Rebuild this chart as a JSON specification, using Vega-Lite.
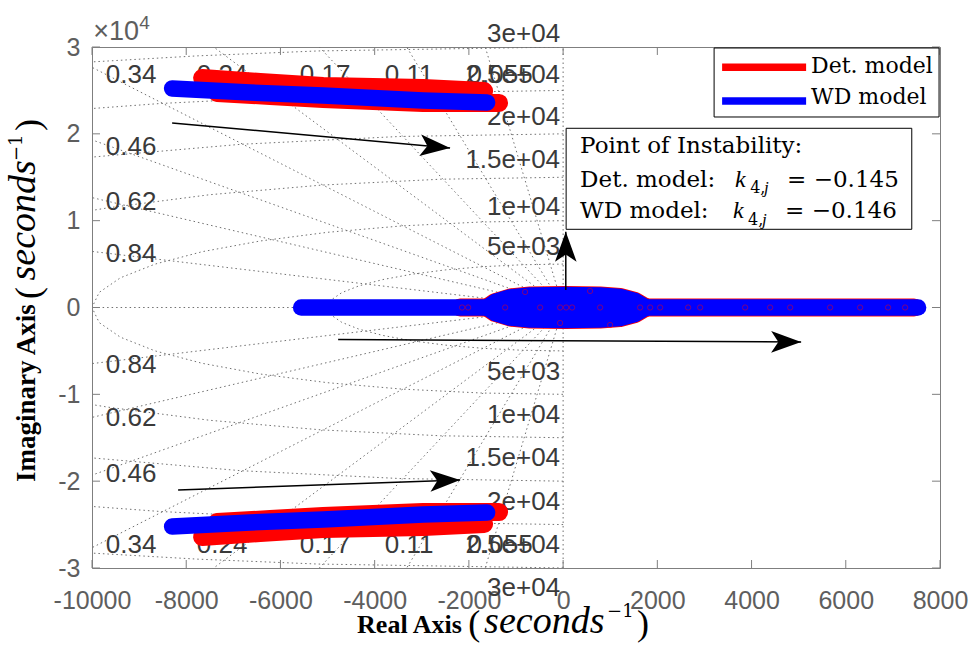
{
  "$schema": "https://vega.github.io/schema/vega-lite/v6.json",
  "width": 848,
  "height": 521,
  "autosize": {"type": "none"},
  "padding": {"left": 92, "top": 47, "right": 35, "bottom": 78},
  "background": "white",
  "config": {
    "view": {"stroke": "#7f7f7f", "strokeWidth": 1},
    "axis": {
      "grid": false, "ticks": false, "tickSize": 0, "domain": false,
      "labelFont": "Liberation Sans", "labelFontSize": 25, "labelColor": "#5e5e5e",
      "labelOverlap": false, "labelFlush": false, "labelBound": false
    }
  },
  "datasets": {
    "sgrid": [
      {"g": "z0", "o": 0, "re": 0, "im": -30000}, {"g": "z0", "o": 1, "re": 0, "im": 30000},
      {"g": "z1", "o": 0, "re": 0, "im": 0}, {"g": "z1", "o": 1, "re": -10000, "im": 0},
      {"g": "z84u", "o": 0, "re": 0, "im": 0}, {"g": "z84u", "o": 1, "re": -10000, "im": 6459},
      {"g": "z84l", "o": 0, "re": 0, "im": 0}, {"g": "z84l", "o": 1, "re": -10000, "im": -6459},
      {"g": "z62u", "o": 0, "re": 0, "im": 0}, {"g": "z62u", "o": 1, "re": -10000, "im": 12655},
      {"g": "z62l", "o": 0, "re": 0, "im": 0}, {"g": "z62l", "o": 1, "re": -10000, "im": -12655},
      {"g": "z46u", "o": 0, "re": 0, "im": 0}, {"g": "z46u", "o": 1, "re": -10000, "im": 19303},
      {"g": "z46l", "o": 0, "re": 0, "im": 0}, {"g": "z46l", "o": 1, "re": -10000, "im": -19303},
      {"g": "z34u", "o": 0, "re": 0, "im": 0}, {"g": "z34u", "o": 1, "re": -10000, "im": 27660},
      {"g": "z34l", "o": 0, "re": 0, "im": 0}, {"g": "z34l", "o": 1, "re": -10000, "im": -27660},
      {"g": "z24u", "o": 0, "re": 0, "im": 0}, {"g": "z24u", "o": 1, "re": -7417, "im": 30000},
      {"g": "z24l", "o": 0, "re": 0, "im": 0}, {"g": "z24l", "o": 1, "re": -7417, "im": -30000},
      {"g": "z17u", "o": 0, "re": 0, "im": 0}, {"g": "z17u", "o": 1, "re": -5175, "im": 30000},
      {"g": "z17l", "o": 0, "re": 0, "im": 0}, {"g": "z17l", "o": 1, "re": -5175, "im": -30000},
      {"g": "z11u", "o": 0, "re": 0, "im": 0}, {"g": "z11u", "o": 1, "re": -3320, "im": 30000},
      {"g": "z11l", "o": 0, "re": 0, "im": 0}, {"g": "z11l", "o": 1, "re": -3320, "im": -30000},
      {"g": "z055u", "o": 0, "re": 0, "im": 0}, {"g": "z055u", "o": 1, "re": -1653, "im": 30000},
      {"g": "z055l", "o": 0, "re": 0, "im": 0}, {"g": "z055l", "o": 1, "re": -1653, "im": -30000},
      {"g": "w5", "o": 0, "re": 0, "im": 5000}, {"g": "w5", "o": 1, "re": -868, "im": 4924},
      {"g": "w5", "o": 2, "re": -1710, "im": 4698}, {"g": "w5", "o": 3, "re": -2500, "im": 4330},
      {"g": "w5", "o": 4, "re": -3214, "im": 3830}, {"g": "w5", "o": 5, "re": -3830, "im": 3214},
      {"g": "w5", "o": 6, "re": -4330, "im": 2500}, {"g": "w5", "o": 7, "re": -4698, "im": 1710},
      {"g": "w5", "o": 8, "re": -4924, "im": 868}, {"g": "w5", "o": 9, "re": -5000, "im": 0},
      {"g": "w5", "o": 10, "re": -4924, "im": -868}, {"g": "w5", "o": 11, "re": -4698, "im": -1710},
      {"g": "w5", "o": 12, "re": -4330, "im": -2500}, {"g": "w5", "o": 13, "re": -3830, "im": -3214},
      {"g": "w5", "o": 14, "re": -3214, "im": -3830}, {"g": "w5", "o": 15, "re": -2500, "im": -4330},
      {"g": "w5", "o": 16, "re": -1710, "im": -4698}, {"g": "w5", "o": 17, "re": -868, "im": -4924},
      {"g": "w5", "o": 18, "re": 0, "im": -5000},
      {"g": "w10", "o": 0, "re": 0, "im": 10000}, {"g": "w10", "o": 1, "re": -1736, "im": 9848},
      {"g": "w10", "o": 2, "re": -3420, "im": 9397}, {"g": "w10", "o": 3, "re": -5000, "im": 8660},
      {"g": "w10", "o": 4, "re": -6428, "im": 7660}, {"g": "w10", "o": 5, "re": -7660, "im": 6428},
      {"g": "w10", "o": 6, "re": -8660, "im": 5000}, {"g": "w10", "o": 7, "re": -9397, "im": 3420},
      {"g": "w10", "o": 8, "re": -9848, "im": 1736}, {"g": "w10", "o": 9, "re": -10000, "im": 0},
      {"g": "w10", "o": 10, "re": -9848, "im": -1736}, {"g": "w10", "o": 11, "re": -9397, "im": -3420},
      {"g": "w10", "o": 12, "re": -8660, "im": -5000}, {"g": "w10", "o": 13, "re": -7660, "im": -6428},
      {"g": "w10", "o": 14, "re": -6428, "im": -7660}, {"g": "w10", "o": 15, "re": -5000, "im": -8660},
      {"g": "w10", "o": 16, "re": -3420, "im": -9397}, {"g": "w10", "o": 17, "re": -1736, "im": -9848},
      {"g": "w10", "o": 18, "re": 0, "im": -10000},
      {"g": "w15u", "o": 0, "re": 0, "im": 15000}, {"g": "w15u", "o": 1, "re": -2605, "im": 14772},
      {"g": "w15u", "o": 2, "re": -5130, "im": 14095}, {"g": "w15u", "o": 3, "re": -7500, "im": 12990},
      {"g": "w15u", "o": 4, "re": -9642, "im": 11491}, {"g": "w15u", "o": 5, "re": -10000, "im": 11180},
      {"g": "w15l", "o": 0, "re": 0, "im": -15000}, {"g": "w15l", "o": 1, "re": -2605, "im": -14772},
      {"g": "w15l", "o": 2, "re": -5130, "im": -14095}, {"g": "w15l", "o": 3, "re": -7500, "im": -12990},
      {"g": "w15l", "o": 4, "re": -9642, "im": -11491}, {"g": "w15l", "o": 5, "re": -10000, "im": -11180},
      {"g": "w20u", "o": 0, "re": 0, "im": 20000}, {"g": "w20u", "o": 1, "re": -3473, "im": 19696},
      {"g": "w20u", "o": 2, "re": -6840, "im": 18794}, {"g": "w20u", "o": 3, "re": -10000, "im": 17321},
      {"g": "w20l", "o": 0, "re": 0, "im": -20000}, {"g": "w20l", "o": 1, "re": -3473, "im": -19696},
      {"g": "w20l", "o": 2, "re": -6840, "im": -18794}, {"g": "w20l", "o": 3, "re": -10000, "im": -17321},
      {"g": "w25u", "o": 0, "re": 0, "im": 25000}, {"g": "w25u", "o": 1, "re": -4341, "im": 24620},
      {"g": "w25u", "o": 2, "re": -8551, "im": 23492}, {"g": "w25u", "o": 3, "re": -10000, "im": 22913},
      {"g": "w25l", "o": 0, "re": 0, "im": -25000}, {"g": "w25l", "o": 1, "re": -4341, "im": -24620},
      {"g": "w25l", "o": 2, "re": -8551, "im": -23492}, {"g": "w25l", "o": 3, "re": -10000, "im": -22913},
      {"g": "w30u", "o": 0, "re": 0, "im": 30000}, {"g": "w30u", "o": 1, "re": -5209, "im": 29544},
      {"g": "w30u", "o": 2, "re": -7765, "im": 28978}, {"g": "w30u", "o": 3, "re": -10000, "im": 28284},
      {"g": "w30l", "o": 0, "re": 0, "im": -30000}, {"g": "w30l", "o": 1, "re": -5209, "im": -29544},
      {"g": "w30l", "o": 2, "re": -7765, "im": -28978}, {"g": "w30l", "o": 3, "re": -10000, "im": -28284}
    ],
    "zlabels": [
      {"t": "0.34", "re": -9170, "im": 26777}, {"t": "0.46", "re": -9170, "im": 18484},
      {"t": "0.62", "re": -9170, "im": 12150}, {"t": "0.84", "re": -9170, "im": 6161},
      {"t": "0.84", "re": -9170, "im": -6622}, {"t": "0.62", "re": -9170, "im": -12726},
      {"t": "0.46", "re": -9170, "im": -19175}, {"t": "0.34", "re": -9170, "im": -27352},
      {"t": "0.24", "re": -7238, "im": 26777}, {"t": "0.17", "re": -5052, "im": 26777},
      {"t": "0.11", "re": -3269, "im": 26777}, {"t": "0.055", "re": -1337, "im": 26777},
      {"t": "0.24", "re": -7238, "im": -27352}, {"t": "0.17", "re": -5052, "im": -27352},
      {"t": "0.11", "re": -3269, "im": -27352}, {"t": "0.055", "re": -1337, "im": -27352}
    ],
    "wlabels": [
      {"t": "3e+04", "re": -64, "im": 31499}, {"t": "2.5e+04", "re": -64, "im": 26777},
      {"t": "2e+04", "re": -64, "im": 21940}, {"t": "1.5e+04", "re": -64, "im": 16987},
      {"t": "1e+04", "re": -64, "im": 11575}, {"t": "5e+03", "re": -64, "im": 6968},
      {"t": "5e+03", "re": -64, "im": -7428}, {"t": "1e+04", "re": -64, "im": -12381},
      {"t": "1.5e+04", "re": -64, "im": -17333}, {"t": "2e+04", "re": -64, "im": -22400},
      {"t": "2.5e+04", "re": -64, "im": -27352}, {"t": "3e+04", "re": -64, "im": -32304}
    ],
    "xticks": [
      {"v": -10000}, {"v": -8000}, {"v": -6000}, {"v": -4000}, {"v": -2000},
      {"v": 0}, {"v": 2000}, {"v": 4000}, {"v": 6000}, {"v": 8000}
    ],
    "yticks": [
      {"v": -30000}, {"v": -20000}, {"v": -10000}, {"v": 0}, {"v": 10000}, {"v": 20000}, {"v": 30000}
    ],
    "locus": [
      {"m": "Det. model", "b": "d1", "o": 0, "re": -7662, "im": 26432},
      {"m": "Det. model", "b": "d1", "o": 1, "re": -6431, "im": 25971},
      {"m": "Det. model", "b": "d1", "o": 2, "re": -5094, "im": 25511},
      {"m": "Det. model", "b": "d1", "o": 3, "re": -2972, "im": 25280},
      {"m": "Det. model", "b": "d1", "o": 4, "re": -1677, "im": 24935},
      {"m": "Det. model", "b": "d2", "o": 0, "re": -7344, "im": 24704},
      {"m": "Det. model", "b": "d2", "o": 1, "re": -6219, "im": 24358},
      {"m": "Det. model", "b": "d2", "o": 2, "re": -5094, "im": 24013},
      {"m": "Det. model", "b": "d2", "o": 3, "re": -2972, "im": 23553},
      {"m": "Det. model", "b": "d2", "o": 4, "re": -1359, "im": 23553},
      {"m": "Det. model", "b": "d3", "o": 0, "re": -7662, "im": -26432},
      {"m": "Det. model", "b": "d3", "o": 1, "re": -6431, "im": -25971},
      {"m": "Det. model", "b": "d3", "o": 2, "re": -5094, "im": -25511},
      {"m": "Det. model", "b": "d3", "o": 3, "re": -2972, "im": -25280},
      {"m": "Det. model", "b": "d3", "o": 4, "re": -1677, "im": -24935},
      {"m": "Det. model", "b": "d4", "o": 0, "re": -7344, "im": -24704},
      {"m": "Det. model", "b": "d4", "o": 1, "re": -6219, "im": -24358},
      {"m": "Det. model", "b": "d4", "o": 2, "re": -5094, "im": -24013},
      {"m": "Det. model", "b": "d4", "o": 3, "re": -2972, "im": -23553},
      {"m": "Det. model", "b": "d4", "o": 4, "re": -1359, "im": -23553},
      {"m": "Det. model", "b": "d5", "o": 0, "re": -2186, "im": 0},
      {"m": "Det. model", "b": "d5", "o": 1, "re": 7450, "im": 0},
      {"m": "Det. model", "b": "d6", "o": 0, "re": -1613, "im": 0},
      {"m": "Det. model", "b": "d6", "o": 1, "re": -1443, "im": 633},
      {"m": "Det. model", "b": "d6", "o": 2, "re": -1125, "im": 1152},
      {"m": "Det. model", "b": "d6", "o": 3, "re": -700, "im": 1382},
      {"m": "Det. model", "b": "d6", "o": 4, "re": 42, "im": 1440},
      {"m": "Det. model", "b": "d6", "o": 5, "re": 785, "im": 1382},
      {"m": "Det. model", "b": "d6", "o": 6, "re": 1210, "im": 1209},
      {"m": "Det. model", "b": "d6", "o": 7, "re": 1528, "im": 749},
      {"m": "Det. model", "b": "d6", "o": 8, "re": 1762, "im": 0},
      {"m": "Det. model", "b": "d7", "o": 0, "re": -1613, "im": 0},
      {"m": "Det. model", "b": "d7", "o": 1, "re": -1443, "im": -633},
      {"m": "Det. model", "b": "d7", "o": 2, "re": -1125, "im": -1152},
      {"m": "Det. model", "b": "d7", "o": 3, "re": -700, "im": -1382},
      {"m": "Det. model", "b": "d7", "o": 4, "re": 42, "im": -1440},
      {"m": "Det. model", "b": "d7", "o": 5, "re": 785, "im": -1382},
      {"m": "Det. model", "b": "d7", "o": 6, "re": 1210, "im": -1209},
      {"m": "Det. model", "b": "d7", "o": 7, "re": 1528, "im": -749},
      {"m": "Det. model", "b": "d7", "o": 8, "re": 1762, "im": 0},
      {"m": "WD model", "b": "w1", "o": 0, "re": -8299, "im": 25222},
      {"m": "WD model", "b": "w1", "o": 1, "re": -6644, "im": 24762},
      {"m": "WD model", "b": "w1", "o": 2, "re": -5094, "im": 24416},
      {"m": "WD model", "b": "w1", "o": 3, "re": -2972, "im": 23840},
      {"m": "WD model", "b": "w1", "o": 4, "re": -1613, "im": 23610},
      {"m": "WD model", "b": "w2", "o": 0, "re": -8299, "im": -25222},
      {"m": "WD model", "b": "w2", "o": 1, "re": -6644, "im": -24762},
      {"m": "WD model", "b": "w2", "o": 2, "re": -5094, "im": -24416},
      {"m": "WD model", "b": "w2", "o": 3, "re": -2972, "im": -23840},
      {"m": "WD model", "b": "w2", "o": 4, "re": -1613, "im": -23610},
      {"m": "WD model", "b": "w3", "o": 0, "re": -5561, "im": 0},
      {"m": "WD model", "b": "w3", "o": 1, "re": 7535, "im": 0},
      {"m": "WD model", "b": "w4", "o": 0, "re": -1613, "im": 0},
      {"m": "WD model", "b": "w4", "o": 1, "re": -1443, "im": 633},
      {"m": "WD model", "b": "w4", "o": 2, "re": -1125, "im": 1152},
      {"m": "WD model", "b": "w4", "o": 3, "re": -700, "im": 1382},
      {"m": "WD model", "b": "w4", "o": 4, "re": 42, "im": 1440},
      {"m": "WD model", "b": "w4", "o": 5, "re": 785, "im": 1382},
      {"m": "WD model", "b": "w4", "o": 6, "re": 1210, "im": 1209},
      {"m": "WD model", "b": "w4", "o": 7, "re": 1528, "im": 749},
      {"m": "WD model", "b": "w4", "o": 8, "re": 1762, "im": 0},
      {"m": "WD model", "b": "w5", "o": 0, "re": -1613, "im": 0},
      {"m": "WD model", "b": "w5", "o": 1, "re": -1443, "im": -633},
      {"m": "WD model", "b": "w5", "o": 2, "re": -1125, "im": -1152},
      {"m": "WD model", "b": "w5", "o": 3, "re": -700, "im": -1382},
      {"m": "WD model", "b": "w5", "o": 4, "re": 42, "im": -1440},
      {"m": "WD model", "b": "w5", "o": 5, "re": 785, "im": -1382},
      {"m": "WD model", "b": "w5", "o": 6, "re": 1210, "im": -1209},
      {"m": "WD model", "b": "w5", "o": 7, "re": 1528, "im": -749},
      {"m": "WD model", "b": "w5", "o": 8, "re": 1762, "im": 0}
    ],
    "detroots": [
      {"re": -2144, "im": 0}, {"re": -2016, "im": 0}, {"re": -1231, "im": 0}, {"re": -488, "im": 0},
      {"re": -64, "im": 0}, {"re": 64, "im": 0}, {"re": 191, "im": 0}, {"re": 785, "im": 0},
      {"re": 1634, "im": 0}, {"re": 1847, "im": 0}, {"re": 2059, "im": 0}, {"re": 2653, "im": 0},
      {"re": 2908, "im": 0}, {"re": 3863, "im": 0}, {"re": 4394, "im": 0}, {"re": 4819, "im": 0},
      {"re": 5667, "im": 0}, {"re": 6304, "im": 0}, {"re": 6898, "im": 0}, {"re": 7259, "im": 0},
      {"re": -807, "im": 1785}, {"re": -64, "im": -1785}, {"re": 998, "im": -2015}, {"re": 573, "im": 1900}
    ],
    "arrows": [
      {"re": -8299, "im": 21253, "re2": -2399, "im2": 18374},
      {"re": -8172, "im": -21018, "re2": -2186, "im2": -19867},
      {"re": -4776, "im": -3685, "re2": 5052, "im2": -3974},
      {"re": 57, "im": 2015, "re2": 57, "im2": 8730}
    ]
  },
  "data": {"values": [{}]},
  "layer": [
    {
      "data": {"name": "sgrid"},
      "mark": {"type": "line", "color": "#707070", "strokeWidth": 1, "strokeDash": [1.5, 3], "clip": true},
      "encoding": {
        "x": {"field": "re", "type": "quantitative", "title": null,
              "scale": {"domain": [-10000, 8000], "nice": false, "zero": false},
              "axis": {"values": [-10000, -8000, -6000, -4000, -2000, 0, 2000, 4000, 6000, 8000],
                       "labelExpr": "'' + datum.value", "labelPadding": 20}},
        "y": {"field": "im", "type": "quantitative", "title": null,
              "scale": {"domain": [-30000, 30000], "nice": false, "zero": false},
              "axis": {"values": [-30000, -20000, -10000, 0, 10000, 20000, 30000],
                       "labelExpr": "'' + (datum.value / 10000)", "labelPadding": 12}},
        "detail": {"field": "g"},
        "order": {"field": "o"}
      }
    },
    {
      "data": {"name": "xticks"},
      "mark": {"type": "rule", "color": "#7f7f7f", "strokeWidth": 1},
      "encoding": {"x": {"field": "v", "type": "quantitative", "title": null}, "y": {"datum": -30000}, "y2": {"datum": -29079}}
    },
    {
      "data": {"name": "xticks"},
      "mark": {"type": "rule", "color": "#7f7f7f", "strokeWidth": 1},
      "encoding": {"x": {"field": "v", "type": "quantitative", "title": null}, "y": {"datum": 30000}, "y2": {"datum": 29079}}
    },
    {
      "data": {"name": "yticks"},
      "mark": {"type": "rule", "color": "#7f7f7f", "strokeWidth": 1},
      "encoding": {"y": {"field": "v", "type": "quantitative", "title": null}, "x": {"datum": -10000}, "x2": {"datum": -9830}}
    },
    {
      "data": {"name": "yticks"},
      "mark": {"type": "rule", "color": "#7f7f7f", "strokeWidth": 1},
      "encoding": {"y": {"field": "v", "type": "quantitative", "title": null}, "x": {"datum": 8000}, "x2": {"datum": 7830}}
    },
    {
      "data": {"name": "zlabels"},
      "mark": {"type": "text", "font": "Liberation Sans", "fontSize": 26, "color": "#3a3a3a", "align": "center", "baseline": "middle"},
      "encoding": {
        "x": {"field": "re", "type": "quantitative", "title": null},
        "y": {"field": "im", "type": "quantitative", "title": null},
        "text": {"field": "t"}
      }
    },
    {
      "data": {"name": "wlabels"},
      "mark": {"type": "text", "font": "Liberation Sans", "fontSize": 26, "color": "#3a3a3a", "align": "right", "baseline": "middle"},
      "encoding": {
        "x": {"field": "re", "type": "quantitative", "title": null},
        "y": {"field": "im", "type": "quantitative", "title": null},
        "text": {"field": "t"}
      }
    },
    {
      "data": {"name": "locus"},
      "transform": [{"filter": "datum.m === 'Det. model'"}],
      "mark": {"type": "line", "color": "#ff0000", "strokeWidth": 18, "strokeCap": "round", "strokeJoin": "round", "clip": true},
      "encoding": {
        "x": {"field": "re", "type": "quantitative", "title": null},
        "y": {"field": "im", "type": "quantitative", "title": null},
        "detail": {"field": "b"},
        "order": {"field": "o"}
      }
    },
    {
      "data": {"name": "locus"},
      "transform": [{"filter": "datum.m === 'WD model'"}],
      "mark": {"type": "line", "color": "#0000ff", "strokeWidth": 16.5, "strokeCap": "round", "strokeJoin": "round", "clip": true},
      "encoding": {
        "x": {"field": "re", "type": "quantitative", "title": null},
        "y": {"field": "im", "type": "quantitative", "title": null},
        "detail": {"field": "b"},
        "order": {"field": "o"}
      }
    },
    {
      "data": {"name": "detroots"},
      "mark": {"type": "point", "shape": "circle", "filled": false, "color": "#ff0000", "size": 28, "strokeWidth": 0.8, "opacity": 0.6, "clip": true},
      "encoding": {
        "x": {"field": "re", "type": "quantitative", "title": null},
        "y": {"field": "im", "type": "quantitative", "title": null}
      }
    },
    {
      "data": {"name": "arrows"},
      "mark": {"type": "rule", "color": "black", "strokeWidth": 1.5},
      "encoding": {
        "x": {"field": "re", "type": "quantitative", "title": null},
        "y": {"field": "im", "type": "quantitative", "title": null},
        "x2": {"field": "re2"},
        "y2": {"field": "im2"}
      }
    },
    {
      "mark": {"type": "point", "shape": "M0,0L-1,-0.36L-0.76,0L-1,0.36Z", "size": 3600, "filled": true, "color": "black", "opacity": 1, "strokeWidth": 0, "angle": 5.1},
      "encoding": {"x": {"datum": -2399}, "y": {"datum": 18374}}
    },
    {
      "mark": {"type": "point", "shape": "M0,0L-1,-0.36L-0.76,0L-1,0.36Z", "size": 3600, "filled": true, "color": "black", "opacity": 1, "strokeWidth": 0, "angle": 358},
      "encoding": {"x": {"datum": -2186}, "y": {"datum": -19867}}
    },
    {
      "mark": {"type": "point", "shape": "M0,0L-1,-0.36L-0.76,0L-1,0.36Z", "size": 3600, "filled": true, "color": "black", "opacity": 1, "strokeWidth": 0, "angle": 0.3},
      "encoding": {"x": {"datum": 5052}, "y": {"datum": -3974}}
    },
    {
      "mark": {"type": "point", "shape": "M0,0L-1,-0.36L-0.76,0L-1,0.36Z", "size": 3600, "filled": true, "color": "black", "opacity": 1, "strokeWidth": 0, "angle": 270},
      "encoding": {"x": {"datum": 57}, "y": {"datum": 8730}}
    },
    {
      "mark": {"type": "rect", "fill": "white", "stroke": "black", "strokeWidth": 1},
      "encoding": {"x": {"datum": 3205}, "x2": {"datum": 7980}, "y": {"datum": 29886}, "y2": {"datum": 21940}}
    },
    {
      "mark": {"type": "rule", "color": "#ff0000", "strokeWidth": 7.5},
      "encoding": {"x": {"datum": 3375}, "x2": {"datum": 5158}, "y": {"datum": 27664}}
    },
    {
      "mark": {"type": "rule", "color": "#0000ff", "strokeWidth": 7.5},
      "encoding": {"x": {"datum": 3375}, "x2": {"datum": 5158}, "y": {"datum": 23783}}
    },
    {
      "mark": {"type": "text", "font": "DejaVu Serif", "fontSize": 22, "color": "black", "align": "left", "baseline": "alphabetic"},
      "encoding": {"x": {"datum": 5264}, "y": {"datum": 26973}, "text": {"value": "Det. model"}}
    },
    {
      "mark": {"type": "text", "font": "DejaVu Serif", "fontSize": 22, "color": "black", "align": "left", "baseline": "alphabetic"},
      "encoding": {"x": {"datum": 5264}, "y": {"datum": 23437}, "text": {"value": "WD model"}}
    },
    {
      "mark": {"type": "rect", "fill": "white", "stroke": "black", "strokeWidth": 1},
      "encoding": {"x": {"datum": 64}, "x2": {"datum": 7401}, "y": {"datum": 20638}, "y2": {"datum": 9006}}
    },
    {
      "mark": {"type": "text", "font": "DejaVu Serif", "fontSize": 23, "color": "black", "align": "left", "baseline": "alphabetic"},
      "encoding": {"x": {"datum": 361}, "y": {"datum": 17759}, "text": {"value": "Point of Instability:"}}
    },
    {
      "mark": {"type": "text", "font": "DejaVu Serif", "fontSize": 23, "color": "black", "align": "left", "baseline": "alphabetic"},
      "encoding": {"x": {"datum": 361}, "y": {"datum": 13912}, "text": {"value": "Det. model:"}}
    },
    {
      "mark": {"type": "text", "font": "Liberation Serif", "fontSize": 24, "fontStyle": "italic", "color": "black", "align": "left", "baseline": "alphabetic"},
      "encoding": {"x": {"datum": 3651}, "y": {"datum": 13912}, "text": {"value": "k"}}
    },
    {
      "mark": {"type": "text", "font": "DejaVu Serif", "fontSize": 16, "color": "black", "align": "left", "baseline": "alphabetic"},
      "encoding": {"x": {"datum": 3970}, "y": {"datum": 13187}, "text": {"value": "4,"}}
    },
    {
      "mark": {"type": "text", "font": "Liberation Serif", "fontSize": 17, "fontStyle": "italic", "color": "black", "align": "left", "baseline": "alphabetic"},
      "encoding": {"x": {"datum": 4266}, "y": {"datum": 13187}, "text": {"value": "j"}}
    },
    {
      "mark": {"type": "text", "font": "DejaVu Serif", "fontSize": 23, "color": "black", "align": "left", "baseline": "alphabetic"},
      "encoding": {"x": {"datum": 4755}, "y": {"datum": 13912}, "text": {"value": "= −0.145"}}
    },
    {
      "mark": {"type": "text", "font": "DejaVu Serif", "fontSize": 23, "color": "black", "align": "left", "baseline": "alphabetic"},
      "encoding": {"x": {"datum": 361}, "y": {"datum": 10273}, "text": {"value": "WD model:"}}
    },
    {
      "mark": {"type": "text", "font": "Liberation Serif", "fontSize": 24, "fontStyle": "italic", "color": "black", "align": "left", "baseline": "alphabetic"},
      "encoding": {"x": {"datum": 3608}, "y": {"datum": 10273}, "text": {"value": "k"}}
    },
    {
      "mark": {"type": "text", "font": "DejaVu Serif", "fontSize": 16, "color": "black", "align": "left", "baseline": "alphabetic"},
      "encoding": {"x": {"datum": 3927}, "y": {"datum": 9501}, "text": {"value": "4,"}}
    },
    {
      "mark": {"type": "text", "font": "Liberation Serif", "fontSize": 17, "fontStyle": "italic", "color": "black", "align": "left", "baseline": "alphabetic"},
      "encoding": {"x": {"datum": 4223}, "y": {"datum": 9501}, "text": {"value": "j"}}
    },
    {
      "mark": {"type": "text", "font": "DejaVu Serif", "fontSize": 23, "color": "black", "align": "left", "baseline": "alphabetic"},
      "encoding": {"x": {"datum": 4712}, "y": {"datum": 10273}, "text": {"value": "= −0.146"}}
    },
    {
      "mark": {"type": "text", "font": "Liberation Sans", "fontSize": 27, "color": "#5e5e5e", "align": "left", "baseline": "alphabetic"},
      "encoding": {"x": {"datum": -9976}, "y": {"datum": 30808}, "text": {"value": "×10"}}
    },
    {
      "mark": {"type": "text", "font": "Liberation Sans", "fontSize": 19, "color": "#5e5e5e", "align": "left", "baseline": "alphabetic"},
      "encoding": {"x": {"datum": -8999}, "y": {"datum": 32075}, "text": {"value": "4"}}
    },
    {
      "mark": {"type": "text", "font": "Liberation Serif", "fontSize": 26, "fontWeight": "bold", "color": "black", "align": "left", "baseline": "alphabetic"},
      "encoding": {"x": {"datum": -4373}, "y": {"datum": -37488}, "text": {"value": "Real Axis"}}
    },
    {
      "mark": {"type": "text", "font": "Liberation Serif", "fontSize": 36, "color": "black", "align": "left", "baseline": "alphabetic"},
      "encoding": {"x": {"datum": -2016}, "y": {"datum": -37690}, "text": {"value": "("}}
    },
    {
      "mark": {"type": "text", "font": "Liberation Serif", "fontSize": 38, "fontStyle": "italic", "color": "black", "align": "left", "baseline": "alphabetic"},
      "encoding": {"x": {"datum": -1677}, "y": {"datum": -37488}, "text": {"value": "seconds"}}
    },
    {
      "mark": {"type": "text", "font": "DejaVu Serif", "fontSize": 18, "color": "black", "align": "left", "baseline": "alphabetic"},
      "encoding": {"x": {"datum": 934}, "y": {"datum": -35645}, "text": {"value": "−1"}}
    },
    {
      "mark": {"type": "text", "font": "Liberation Serif", "fontSize": 36, "color": "black", "align": "left", "baseline": "alphabetic"},
      "encoding": {"x": {"datum": 1571}, "y": {"datum": -37690}, "text": {"value": ")"}}
    },
    {
      "mark": {"type": "text", "font": "Liberation Serif", "fontSize": 27, "fontWeight": "bold", "color": "black", "align": "left", "baseline": "alphabetic", "angle": 270},
      "encoding": {"x": {"datum": -11207}, "y": {"datum": -20097}, "text": {"value": "Imaginary Axis"}}
    },
    {
      "mark": {"type": "text", "font": "Liberation Serif", "fontSize": 36, "color": "black", "align": "left", "baseline": "alphabetic", "angle": 270},
      "encoding": {"x": {"datum": -11100}, "y": {"datum": 979}, "text": {"value": "("}}
    },
    {
      "mark": {"type": "text", "font": "Liberation Serif", "fontSize": 38, "fontStyle": "italic", "color": "black", "align": "left", "baseline": "alphabetic", "angle": 270},
      "encoding": {"x": {"datum": -11207}, "y": {"datum": 3109}, "text": {"value": "seconds"}}
    },
    {
      "mark": {"type": "text", "font": "DejaVu Serif", "fontSize": 18, "color": "black", "align": "left", "baseline": "alphabetic", "angle": 270},
      "encoding": {"x": {"datum": -11483}, "y": {"datum": 16872}, "text": {"value": "−1"}}
    },
    {
      "mark": {"type": "text", "font": "Liberation Serif", "fontSize": 36, "color": "black", "align": "left", "baseline": "alphabetic", "angle": 270},
      "encoding": {"x": {"datum": -11100}, "y": {"datum": 20327}, "text": {"value": ")"}}
    }
  ]
}
